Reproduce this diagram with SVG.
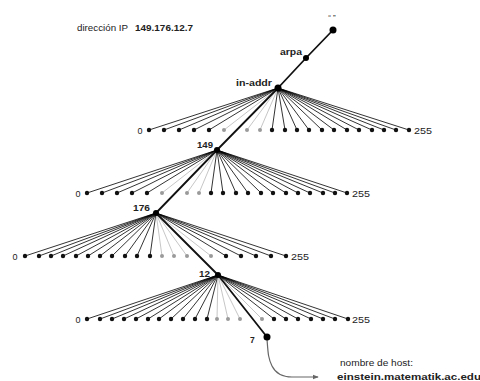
<svg xmlns="http://www.w3.org/2000/svg" width="480" height="381" viewBox="0 0 480 381">
  <defs>
    <style>
      .lbl { font-family: "Liberation Sans", Arial, sans-serif; fill: #222; }
      .b { font-weight: bold; }
      .fan { fill: none; stroke: #000; stroke-width: 0.8; }
      .fan-lt { fill: none; stroke: #a0a0a0; stroke-width: 0.6; }
      .leaf { fill: #111; }
      .leaf-lt { fill: #9a9a9a; }
      .node { fill: #000; }
      .spine { fill: none; stroke: #111; stroke-width: 1.8; stroke-linejoin: round; }
    </style>
    <marker id="arrow" viewBox="0 0 8 8" refX="7" refY="4" markerWidth="6" markerHeight="6" orient="auto" markerUnits="userSpaceOnUse">
      <path d="M0,1 L8,4 L0,7 z" fill="#666"/>
    </marker>
  </defs>

  <rect width="480" height="381" fill="#fff"/>

  <!-- heading -->
  <text class="lbl" x="77" y="31" font-size="8.5" fill="#444" textLength="51" lengthAdjust="spacingAndGlyphs">dirección IP</text>
  <text class="lbl b" x="135" y="31" font-size="8.5" textLength="58" lengthAdjust="spacingAndGlyphs">149.176.12.7</text>

  <g id="connectors">
    <!-- fan under in-addr -->
    <path class="fan" d="M278 88L149 130M278 88L164 130M278 88L179 130M278 88L194 130M278 88L209 130M278 88L272 130M278 88L285 130M278 88L297 130M278 88L309 130M278 88L322 130M278 88L334 130M278 88L347 130M278 88L359 130M278 88L372 130M278 88L384 130M278 88L396 130M278 88L409 130"/>
    <path class="fan-lt" d="M278 88L224 130M278 88L247 130M278 88L260 130"/>
    <!-- fan under 149 -->
    <path class="fan" d="M217 150L87 193M217 150L102 193M217 150L117 193M217 150L132 193M217 150L147 193M217 150L211 193M217 150L223 193M217 150L236 193M217 150L248 193M217 150L261 193M217 150L273 193M217 150L286 193M217 150L298 193M217 150L310 193M217 150L323 193M217 150L335 193M217 150L347 193"/>
    <path class="fan-lt" d="M217 150L162 193M217 150L187 193M217 150L199 193"/>
    <!-- fan under 176 -->
    <path class="fan" d="M156 213L25 256M156 213L39 256M156 213L51 256M156 213L63 256M156 213L76 256M156 213L88 256M156 213L100 256M156 213L112 256M156 213L125 256M156 213L137 256M156 213L150 256M156 213L226 256M156 213L241 256M156 213L256 256M156 213L271 256M156 213L286 256"/>
    <path class="fan-lt" d="M156 213L162 256M156 213L174 256M156 213L187 256M156 213L211 256"/>
    <!-- fan under 12 -->
    <path class="fan" d="M218 275L87 319M218 275L100 319M218 275L112 319M218 275L124 319M218 275L136 319M218 275L148 319M218 275L159 319M218 275L171 319M218 275L183 319M218 275L195 319M218 275L207 319M218 275L274 319M218 275L286 319M218 275L298 319M218 275L311 319M218 275L323 319M218 275L335 319M218 275L348 319"/>
    <path class="fan-lt" d="M218 275L217 319M218 275L228 319M218 275L240 319M218 275L262 319"/>
    <!-- lookup path -->
    <polyline class="spine" points="333,30 306,58 278,88 217,150 156,213 218,275 267,337"/>
    <!-- host result -->
    <path d="M267 339 C268 352 268 358 272 366 C276 374 282 377 292 377 L318 377" fill="none" stroke="#666" stroke-width="1.2" marker-end="url(#arrow)"/>
  </g>

  <g id="root">
    <circle class="node" cx="333" cy="30" r="3.5"/>
    <text class="lbl" x="332" y="20" font-size="8" fill="#555" text-anchor="middle">“ ”</text>
  </g>
  <g id="arpa">
    <circle class="node" cx="306" cy="58" r="3"/>
    <text class="lbl b" x="280" y="55" font-size="9" textLength="22" lengthAdjust="spacingAndGlyphs">arpa</text>
  </g>
  <g id="in-addr">
    <circle class="node" cx="278" cy="88" r="3.5"/>
    <text class="lbl b" x="236" y="85.5" font-size="9.5" textLength="36" lengthAdjust="spacingAndGlyphs">in-addr</text>
  </g>

  <g id="row-in-addr">
    <g class="leaf">
      <circle cx="149" cy="130" r="2.2"/><circle cx="164" cy="130" r="2.2"/><circle cx="179" cy="130" r="2.2"/><circle cx="194" cy="130" r="2.2"/><circle cx="209" cy="130" r="2.2"/>
      <circle cx="272" cy="130" r="2.2"/><circle cx="285" cy="130" r="2.2"/><circle cx="297" cy="130" r="2.2"/><circle cx="309" cy="130" r="2.2"/><circle cx="322" cy="130" r="2.2"/><circle cx="334" cy="130" r="2.2"/><circle cx="347" cy="130" r="2.2"/><circle cx="359" cy="130" r="2.2"/><circle cx="372" cy="130" r="2.2"/><circle cx="384" cy="130" r="2.2"/><circle cx="396" cy="130" r="2.2"/><circle cx="409" cy="130" r="2.2"/>
    </g>
    <g class="leaf-lt">
      <circle cx="224" cy="130" r="2"/><circle cx="247" cy="130" r="2"/><circle cx="260" cy="130" r="2"/>
    </g>
    <text class="lbl" x="140" y="133.5" font-size="9" text-anchor="middle">0</text>
    <text class="lbl" x="414" y="133.5" font-size="9" textLength="18" lengthAdjust="spacingAndGlyphs">255</text>
  </g>

  <g id="n149">
    <circle class="node" cx="217" cy="150" r="3"/>
    <text class="lbl b" x="197" y="148" font-size="8.5" textLength="16" lengthAdjust="spacingAndGlyphs">149</text>
  </g>

  <g id="row-149">
    <g class="leaf">
      <circle cx="87" cy="193" r="2.2"/><circle cx="102" cy="193" r="2.2"/><circle cx="117" cy="193" r="2.2"/><circle cx="132" cy="193" r="2.2"/><circle cx="147" cy="193" r="2.2"/>
      <circle cx="211" cy="193" r="2.2"/><circle cx="223" cy="193" r="2.2"/><circle cx="236" cy="193" r="2.2"/><circle cx="248" cy="193" r="2.2"/><circle cx="261" cy="193" r="2.2"/><circle cx="273" cy="193" r="2.2"/><circle cx="286" cy="193" r="2.2"/><circle cx="298" cy="193" r="2.2"/><circle cx="310" cy="193" r="2.2"/><circle cx="323" cy="193" r="2.2"/><circle cx="335" cy="193" r="2.2"/><circle cx="347" cy="193" r="2.2"/>
    </g>
    <g class="leaf-lt">
      <circle cx="162" cy="193" r="2"/><circle cx="187" cy="193" r="2"/><circle cx="199" cy="193" r="2"/>
    </g>
    <text class="lbl" x="78" y="196.5" font-size="9" text-anchor="middle">0</text>
    <text class="lbl" x="352" y="196.5" font-size="9" textLength="18" lengthAdjust="spacingAndGlyphs">255</text>
  </g>

  <g id="n176">
    <circle class="node" cx="156" cy="213" r="3"/>
    <text class="lbl b" x="133" y="211" font-size="8.5" textLength="17" lengthAdjust="spacingAndGlyphs">176</text>
  </g>

  <g id="row-176">
    <g class="leaf">
      <circle cx="25" cy="256" r="2.2"/><circle cx="39" cy="256" r="2.2"/><circle cx="51" cy="256" r="2.2"/><circle cx="63" cy="256" r="2.2"/><circle cx="76" cy="256" r="2.2"/><circle cx="88" cy="256" r="2.2"/><circle cx="100" cy="256" r="2.2"/><circle cx="112" cy="256" r="2.2"/><circle cx="125" cy="256" r="2.2"/><circle cx="137" cy="256" r="2.2"/><circle cx="150" cy="256" r="2.2"/>
      <circle cx="226" cy="256" r="2.2"/><circle cx="241" cy="256" r="2.2"/><circle cx="256" cy="256" r="2.2"/><circle cx="271" cy="256" r="2.2"/><circle cx="286" cy="256" r="2.2"/>
    </g>
    <g class="leaf-lt">
      <circle cx="162" cy="256" r="2"/><circle cx="174" cy="256" r="2"/><circle cx="187" cy="256" r="2"/><circle cx="211" cy="256" r="2"/>
    </g>
    <text class="lbl" x="15" y="259.5" font-size="9" text-anchor="middle">0</text>
    <text class="lbl" x="291" y="259.5" font-size="9" textLength="18" lengthAdjust="spacingAndGlyphs">255</text>
  </g>

  <g id="n12">
    <circle class="node" cx="218" cy="275" r="3"/>
    <text class="lbl b" x="199" y="277" font-size="8.5" textLength="11" lengthAdjust="spacingAndGlyphs">12</text>
  </g>

  <g id="row-12">
    <g class="leaf">
      <circle cx="87" cy="319" r="2.2"/><circle cx="100" cy="319" r="2.2"/><circle cx="112" cy="319" r="2.2"/><circle cx="124" cy="319" r="2.2"/><circle cx="136" cy="319" r="2.2"/><circle cx="148" cy="319" r="2.2"/><circle cx="159" cy="319" r="2.2"/><circle cx="171" cy="319" r="2.2"/><circle cx="183" cy="319" r="2.2"/><circle cx="195" cy="319" r="2.2"/><circle cx="207" cy="319" r="2.2"/>
      <circle cx="274" cy="319" r="2.2"/><circle cx="286" cy="319" r="2.2"/><circle cx="298" cy="319" r="2.2"/><circle cx="311" cy="319" r="2.2"/><circle cx="323" cy="319" r="2.2"/><circle cx="335" cy="319" r="2.2"/><circle cx="348" cy="319" r="2.2"/>
    </g>
    <g class="leaf-lt">
      <circle cx="217" cy="319" r="2"/><circle cx="228" cy="319" r="2"/><circle cx="240" cy="319" r="2"/><circle cx="262" cy="319" r="2"/>
    </g>
    <text class="lbl" x="78" y="322.5" font-size="9" text-anchor="middle">0</text>
    <text class="lbl" x="352" y="322.5" font-size="9" textLength="18" lengthAdjust="spacingAndGlyphs">255</text>
  </g>

  <g id="n7">
    <circle class="node" cx="267" cy="337" r="3.5"/>
    <text class="lbl b" x="250" y="343" font-size="8.5">7</text>
  </g>

  <g id="host">
    <text class="lbl" x="340" y="366" font-size="8.5" fill="#333" textLength="73" lengthAdjust="spacingAndGlyphs">nombre de host:</text>
    <text class="lbl b" x="337" y="380" font-size="9.5" fill="#111" textLength="144" lengthAdjust="spacingAndGlyphs">einstein.matematik.ac.edu</text>
  </g>
</svg>
